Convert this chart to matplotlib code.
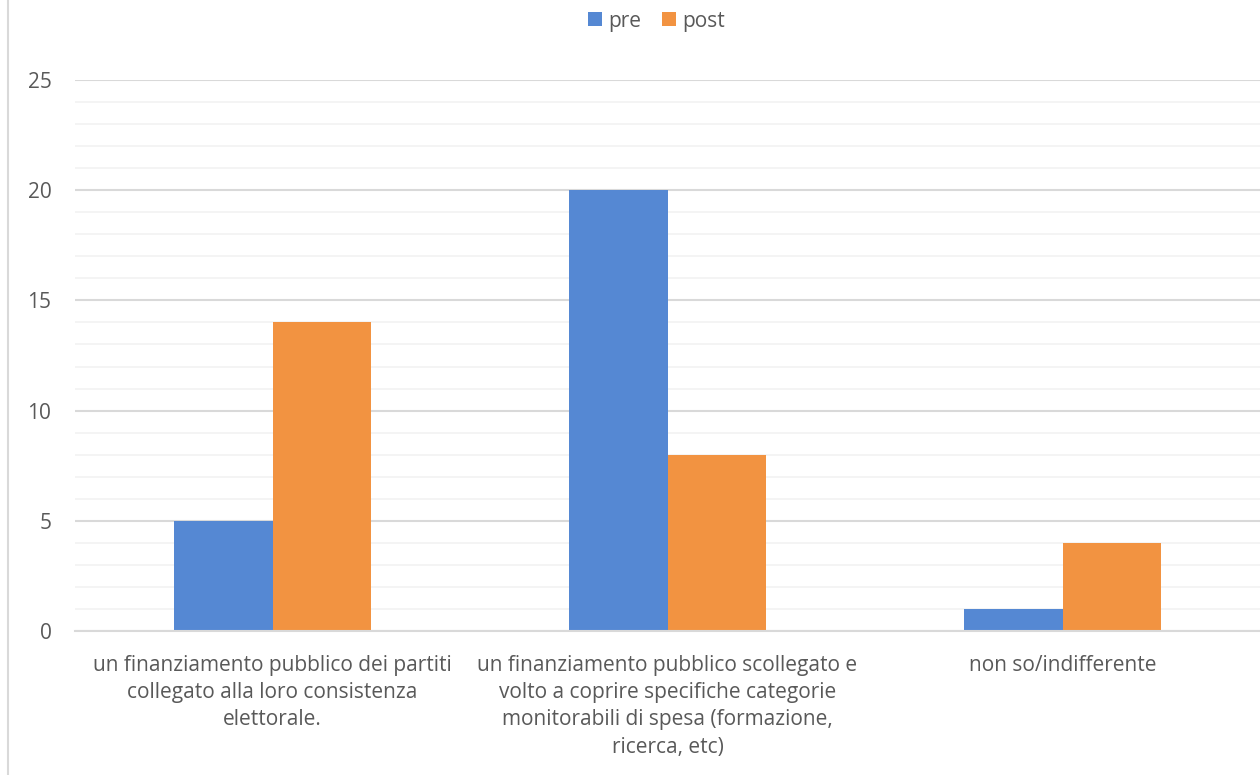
import matplotlib.pyplot as plt
import numpy as np
from matplotlib.lines import Line2D

plt.rcParams['font.family'] = ['Open Sans', 'DejaVu Sans']

categories = [
    'un finanziamento pubblico dei partiti\ncollegato alla loro consistenza\nelettorale.',
    'un finanziamento pubblico scollegato e\nvolto a coprire specifiche categorie\nmonitorabili di spesa (formazione,\nricerca, etc)',
    'non so/indifferente',
]
pre = [5, 20, 1]
post = [14, 8, 4]
y_ticks = [0, 5, 10, 15, 20, 25]

text_color = '#595959'
blue = '#5588D3'
orange = '#F29341'

fig = plt.figure(figsize=(12.6, 7.75), dpi=100)
ax = fig.add_axes([75 / 1260, 1 - 631 / 775, 1 - 75 / 1260, (631 - 80) / 775])

x = np.arange(len(categories))
w = 0.25
ax.bar(x - w / 2, pre, w, color=blue, label='pre', zorder=3)
ax.bar(x + w / 2, post, w, color=orange, label='post', zorder=3)

ax.set_xlim(-0.5, 2.5)
ax.set_ylim(0, 25)
ax.set_yticks(y_ticks)
ax.set_yticks(np.arange(0, 26, 1), minor=True)
ax.grid(axis='y', which='minor', color='#F2F2F2', lw=1.2, zorder=0)
ax.grid(axis='y', which='major', color='#D9D9D9', lw=1.5, zorder=1)
ax.set_xticks(x)
ax.set_xticklabels(categories, fontsize=15, color=text_color, linespacing=1.4, va='top')
ax.tick_params(axis='y', which='both', length=0, labelsize=15, labelcolor=text_color, pad=17)
ax.tick_params(axis='x', length=0, pad=17)
for s in ['top', 'right', 'left']:
    ax.spines[s].set_visible(False)
ax.spines['bottom'].set_color('#D9D9D9')
ax.spines['bottom'].set_linewidth(1.5)
ax.spines['bottom'].set_zorder(4)

fig.legend(loc='center', bbox_to_anchor=(0.521, 1 - 21 / 775), ncol=2, frameon=False,
           fontsize=15, labelcolor=text_color, handlelength=0.65, handleheight=0.65,
           handletextpad=0.3, columnspacing=1.0)

fig.add_artist(Line2D([8 / 1260, 8 / 1260], [0, 1], color='#D9D9D9', lw=1.5))

fig.savefig('out.png', dpi=100)
